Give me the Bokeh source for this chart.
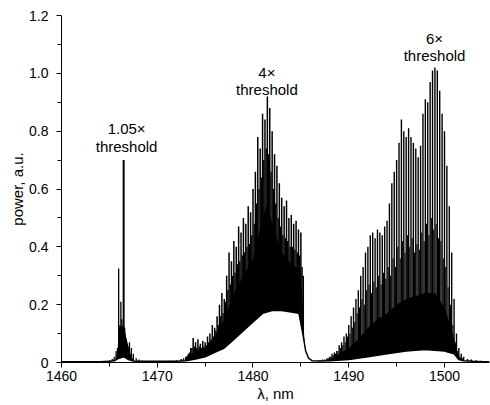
from bokeh.plotting import figure
from bokeh.models import FixedTicker, Range1d
from bokeh.core.properties import value
from bokeh.embed import file_html
from bokeh.resources import INLINE

# ---- data ----
# 1.05x threshold cluster: mode wavelengths and peak powers
m1_wl = [1464.6, 1465.0, 1465.3, 1465.5, 1465.7, 1465.85, 1465.97, 1466.1, 1466.2, 1466.3,
         1466.6, 1466.75, 1466.9, 1467.1, 1467.3, 1467.5, 1467.8, 1468.1, 1468.5]
m1_pk = [0.006, 0.008, 0.012, 0.02, 0.04, 0.05, 0.325, 0.13, 0.21, 0.15,
         0.12, 0.08, 0.05, 0.07, 0.05, 0.03, 0.015, 0.01, 0.006]
main1_wl = [1466.49]
main1_pk = [0.70]
fill1_wl = [1465.6, 1465.85, 1466.0, 1466.5, 1466.8, 1467.2, 1467.6]
fill1_pw = [0.0, 0.04, 0.12, 0.13, 0.08, 0.03, 0.0]

# 4x threshold cluster: main modes
m2_wl = [1471.5, 1472.0, 1472.5, 1472.75,
         1473.00, 1473.25, 1473.50, 1473.75, 1474.00, 1474.25, 1474.50, 1474.75, 1475.00, 1475.25,
         1475.50, 1475.75, 1476.00, 1476.25, 1476.50, 1476.75, 1477.00, 1477.25, 1477.50, 1477.75,
         1478.00, 1478.25, 1478.50, 1478.75, 1479.00, 1479.25, 1479.50, 1479.75, 1480.00, 1480.25,
         1480.50, 1480.75, 1481.00, 1481.25, 1481.50, 1481.75, 1482.00, 1482.25, 1482.50, 1482.75,
         1483.00, 1483.25, 1483.50, 1483.75, 1484.00, 1484.25, 1484.50, 1484.75, 1485.00, 1485.25]
m2_pk = [0.006, 0.008, 0.012, 0.015,
         0.02, 0.03, 0.05, 0.085, 0.07, 0.08, 0.065, 0.075, 0.07, 0.09,
         0.10, 0.13, 0.12, 0.16, 0.20, 0.24, 0.22, 0.30, 0.38, 0.35,
         0.42, 0.40, 0.47, 0.45, 0.50, 0.48, 0.54, 0.52, 0.60, 0.66,
         0.78, 0.74, 0.86, 0.84, 0.92, 0.88, 0.80, 0.72, 0.68, 0.62,
         0.57, 0.54, 0.56, 0.50, 0.51, 0.48, 0.49, 0.46, 0.45, 0.30]
# 4x threshold cluster: weaker in-between lines
s2_wl = [1473.125, 1473.375, 1473.625, 1473.875, 1474.125, 1474.375, 1474.625, 1474.875,
         1475.125, 1475.375, 1475.625, 1475.875, 1476.125, 1476.375, 1476.625, 1476.875,
         1477.125, 1477.375, 1477.625, 1477.875, 1478.125, 1478.375, 1478.625, 1478.875,
         1479.125, 1479.375, 1479.625, 1479.875, 1480.125, 1480.375, 1480.625, 1480.875,
         1481.125, 1481.375, 1481.625, 1481.875, 1482.125, 1482.375, 1482.625, 1482.875,
         1483.125, 1483.375, 1483.625, 1483.875, 1484.125, 1484.375, 1484.625, 1484.875,
         1485.125]
s2_pk = [0.02, 0.035, 0.05, 0.055, 0.05, 0.055, 0.05, 0.055,
         0.06, 0.07, 0.08, 0.09, 0.11, 0.13, 0.16, 0.17,
         0.21, 0.25, 0.27, 0.30, 0.31, 0.34, 0.35, 0.37,
         0.38, 0.40, 0.41, 0.44, 0.48, 0.55, 0.60, 0.64,
         0.70, 0.74, 0.72, 0.66, 0.60, 0.55, 0.50, 0.47,
         0.44, 0.43, 0.42, 0.40, 0.40, 0.39, 0.38, 0.37,
         0.33]
fill2_wl = [1472.8, 1473.0, 1474.0, 1475.0, 1476.0, 1477.0, 1478.0, 1479.0, 1480.0, 1481.0,
            1481.5, 1482.0, 1483.0, 1484.0, 1485.0, 1485.3, 1485.5]
fill2_pw = [0.0, 0.02, 0.04, 0.05, 0.09, 0.15, 0.24, 0.30, 0.36, 0.50,
            0.55, 0.48, 0.38, 0.34, 0.32, 0.12, 0.0]

# 6x threshold cluster: main modes
m3_wl = [1486.5, 1487.0, 1487.25,
         1487.50, 1487.75, 1488.00, 1488.25, 1488.50, 1488.75, 1489.00, 1489.25, 1489.50, 1489.75,
         1490.00, 1490.25, 1490.50, 1490.75, 1491.00, 1491.25, 1491.50, 1491.75, 1492.00, 1492.25,
         1492.50, 1492.75, 1493.00, 1493.25, 1493.50, 1493.75, 1494.00, 1494.25, 1494.50, 1494.75,
         1495.00, 1495.25, 1495.50, 1495.75, 1496.00, 1496.25, 1496.50, 1496.75, 1497.00, 1497.25,
         1497.50, 1497.75, 1498.00, 1498.25, 1498.50, 1498.75, 1499.00, 1499.25, 1499.50, 1499.75,
         1500.00, 1500.25, 1500.50, 1500.75, 1501.00, 1501.25, 1501.50, 1501.75, 1502.00,
         1502.4, 1502.8, 1503.3, 1503.8]
m3_pk = [0.006, 0.008, 0.01,
         0.01, 0.015, 0.02, 0.03, 0.035, 0.04, 0.06, 0.07, 0.09, 0.10,
         0.13, 0.16, 0.19, 0.22, 0.25, 0.30, 0.33, 0.38, 0.40, 0.44,
         0.45, 0.43, 0.46, 0.45, 0.44, 0.47, 0.49, 0.55, 0.62, 0.66,
         0.70, 0.76, 0.84, 0.80, 0.78, 0.81, 0.78, 0.76, 0.74, 0.71,
         0.75, 0.86, 0.91, 0.90, 0.97, 1.01, 1.02, 1.01, 0.94, 0.86,
         0.80, 0.68, 0.54, 0.38, 0.22, 0.10, 0.05, 0.03, 0.02,
         0.012, 0.01, 0.008, 0.006]
# 6x threshold cluster: weaker in-between lines
s3_wl = [1487.625, 1487.875, 1488.125, 1488.375, 1488.625, 1488.875, 1489.125, 1489.375,
         1489.625, 1489.875, 1490.125, 1490.375, 1490.625, 1490.875, 1491.125, 1491.375,
         1491.625, 1491.875, 1492.125, 1492.375, 1492.625, 1492.875, 1493.125, 1493.375,
         1493.625, 1493.875, 1494.125, 1494.375, 1494.625, 1494.875, 1495.125, 1495.375,
         1495.625, 1495.875, 1496.125, 1496.375, 1496.625, 1496.875, 1497.125, 1497.375,
         1497.625, 1497.875, 1498.125, 1498.375, 1498.625, 1498.875, 1499.125, 1499.375,
         1499.625, 1499.875, 1500.125, 1500.375, 1500.625, 1500.875, 1501.125, 1501.375,
         1501.625, 1501.875]
s3_pk = [0.01, 0.015, 0.02, 0.025, 0.03, 0.04, 0.05, 0.06,
         0.07, 0.09, 0.10, 0.12, 0.14, 0.17, 0.19, 0.22,
         0.20, 0.25, 0.27, 0.24, 0.28, 0.26, 0.30, 0.27,
         0.31, 0.29, 0.33, 0.30, 0.36, 0.33, 0.40, 0.36,
         0.42, 0.38, 0.44, 0.40, 0.43, 0.38, 0.41, 0.39,
         0.45, 0.42, 0.48, 0.44, 0.50, 0.46, 0.48, 0.43,
         0.42, 0.36, 0.33, 0.26, 0.20, 0.13, 0.07, 0.04,
         0.02, 0.015]
fill3_wl = [1487.5, 1488.0, 1489.0, 1490.0, 1491.0, 1492.0, 1493.0, 1494.0, 1495.0, 1496.0,
            1497.0, 1498.0, 1499.0, 1500.0, 1500.5, 1501.0, 1501.5, 1502.0]
fill3_pw = [0.0, 0.01, 0.03, 0.05, 0.08, 0.12, 0.15, 0.17, 0.20, 0.22,
            0.23, 0.24, 0.24, 0.19, 0.14, 0.08, 0.02, 0.0]

# lower envelope (inter-mode minimum) across the whole trace
base_wl = [1460, 1462, 1464, 1465, 1465.5, 1466, 1466.5, 1467, 1467.5, 1468, 1470, 1472, 1473,
           1474, 1475, 1476, 1477, 1478, 1479, 1480, 1481, 1482, 1483, 1484, 1484.8, 1485.2,
           1485.5, 1485.8, 1486.2, 1487, 1488, 1490, 1492, 1494, 1496, 1498, 1500, 1501,
           1501.5, 1502, 1503, 1504, 1504.7]
base_pw = [0.003, 0.003, 0.003, 0.004, 0.006, 0.015, 0.02, 0.01, 0.005, 0.004, 0.004, 0.004, 0.006,
           0.012, 0.02, 0.035, 0.05, 0.08, 0.11, 0.14, 0.17, 0.18, 0.18, 0.175, 0.17, 0.10,
           0.04, 0.015, 0.006, 0.005, 0.006, 0.01, 0.02, 0.03, 0.04, 0.045, 0.04, 0.03,
           0.01, 0.006, 0.004, 0.003, 0.003]

x_major = [1460, 1470, 1480, 1490, 1500]
x_minor = [1465, 1475, 1485, 1495]
y_major = [0, 0.2, 0.4, 0.6, 0.8, 1.0, 1.2]
y_minor = [0.1, 0.3, 0.5, 0.7, 0.9, 1.1]
y_labels = ["0", "0.2", "0.4", "0.6", "0.8", "1.0", "1.2"]

labels_top = ["1.05\u00d7", "4\u00d7", "6\u00d7"]
labels_bottom = ["threshold", "threshold", "threshold"]

FONT = "Liberation Sans"

p = figure(width=490, height=405, output_backend="svg", toolbar_location=None,
           x_range=Range1d(1460, 1504.7), y_range=Range1d(0, 1.2),
           min_border_left=61, min_border_right=1, min_border_top=15, min_border_bottom=43)
p.outline_line_color = None
p.xgrid.visible = False
p.ygrid.visible = False
p.background_fill_color = "white"

# black filled band of overlapping modes
for fx, fy in [(fill1_wl, fill1_pw), (fill2_wl, fill2_pw), (fill3_wl, fill3_pw)]:
    p.varea(x=fx, y1=[0] * len(fx), y2=fy, fill_color="black")

# individual longitudinal modes
p.segment(x0=s2_wl, y0=[0] * len(s2_wl), x1=s2_wl, y1=s2_pk, line_color="black", line_width=1.4)
p.segment(x0=s3_wl, y0=[0] * len(s3_wl), x1=s3_wl, y1=s3_pk, line_color="black", line_width=1.1)
p.segment(x0=m1_wl, y0=[0] * len(m1_wl), x1=m1_wl, y1=m1_pk, line_color="black", line_width=1.3)
p.segment(x0=m2_wl, y0=[0] * len(m2_wl), x1=m2_wl, y1=m2_pk, line_color="black", line_width=1.5)
p.segment(x0=m3_wl, y0=[0] * len(m3_wl), x1=m3_wl, y1=m3_pk, line_color="black", line_width=1.4)
p.segment(x0=main1_wl, y0=[0], x1=main1_wl, y1=main1_pk, line_color="black", line_width=2)

# white area under the inter-mode minimum, then the minimum trace
p.varea(x=base_wl, y1=[0] * len(base_wl), y2=base_pw, fill_color="white")
p.line(base_wl, base_pw, line_color="black", line_width=1.5)

# annotations
ann_x = [1466.8, 1481.45, 1498.96]
ann_y_top = [0.81, 1.003, 1.12]
ann_y_bot = [0.747, 0.945, 1.06]
p.text(x=ann_x, y=ann_y_top, text=labels_top, text_align="center", text_baseline="middle",
       text_font=value(FONT), text_font_size="15px", text_color="black")
p.text(x=ann_x, y=ann_y_bot, text=labels_bottom, text_align="center", text_baseline="middle",
       text_font=value(FONT), text_font_size="15px", text_color="black")

# axes
p.xaxis.ticker = FixedTicker(ticks=x_major, minor_ticks=x_minor)
p.yaxis.ticker = FixedTicker(ticks=y_major, minor_ticks=y_minor)
p.yaxis.major_label_overrides = {v: s for v, s in zip(y_major, y_labels)}
p.xaxis.axis_label = "\u03bb, nm"
p.yaxis.axis_label = "power, a.u."
for ax in (p.xaxis, p.yaxis):
    ax.axis_line_color = "black"
    ax.axis_line_width = 1
    ax.major_tick_line_color = "black"
    ax.minor_tick_line_color = "black"
    ax.major_tick_in = 0
    ax.major_tick_out = 5
    ax.minor_tick_in = 0
    ax.minor_tick_out = 4
    ax.major_label_text_font = FONT
    ax.major_label_text_font_size = "14px"
    ax.major_label_text_color = "black"
    ax.axis_label_text_font = FONT
    ax.axis_label_text_font_size = "15px"
    ax.axis_label_text_font_style = "normal"
    ax.axis_label_text_color = "black"
p.xaxis.major_label_standoff = 3
p.xaxis.axis_label_standoff = 1
p.yaxis.major_label_standoff = 8
p.yaxis.axis_label_standoff = 0

open("out.html", "w").write(file_html(p, INLINE))
